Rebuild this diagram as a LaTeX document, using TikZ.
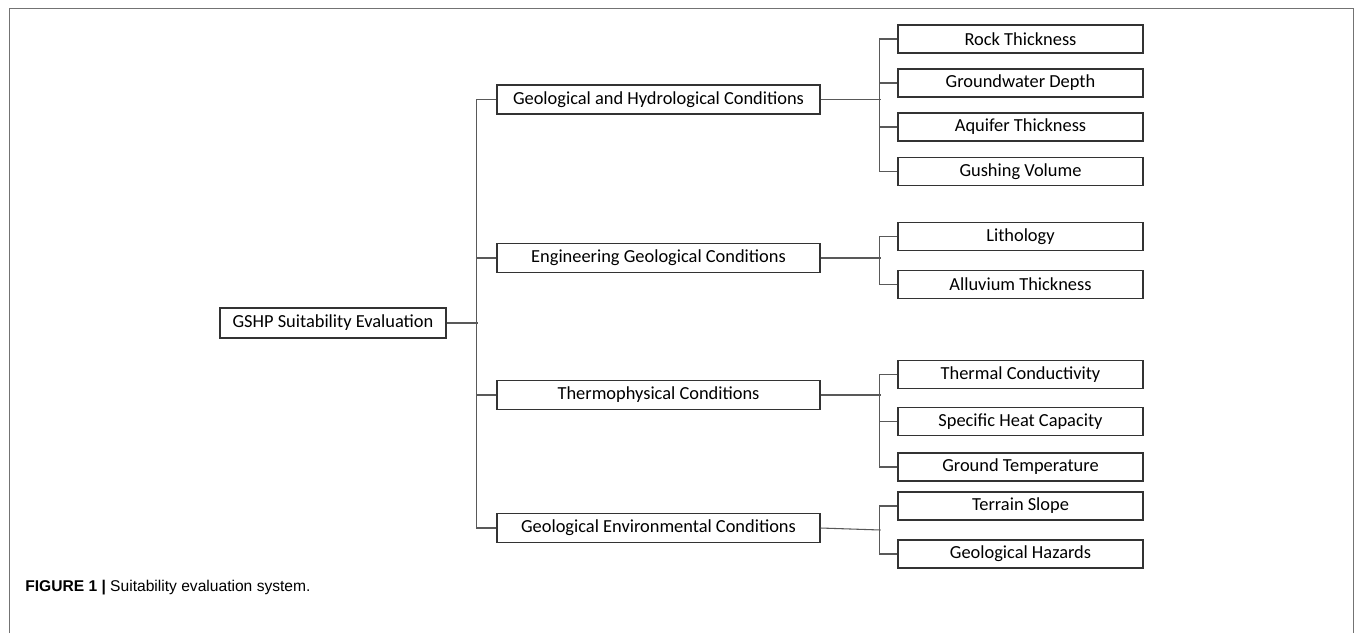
\documentclass[tikz,border=0pt]{standalone}
\usepackage{fontspec}
\setmainfont{Carlito}
\newfontfamily\capfont{Liberation Sans}
\usetikzlibrary{calc}

\tikzset{
	rootbox/.style={draw=black!80, line width=0.8pt, minimum width=169.5pt, minimum height=22.5pt, inner sep=0pt, font=\fontsize{13.8}{16}\selectfont},
	midbox/.style={draw=black!80, line width=0.8pt, minimum width=242.25pt, minimum height=21.75pt, inner sep=0pt, font=\fontsize{13.8}{16}\selectfont},
	leafbox/.style={draw=black!80, line width=0.8pt, minimum width=183.75pt, minimum height=21pt, inner sep=0pt, font=\fontsize{13.8}{16}\selectfont},
	link/.style={draw=black!65, line width=0.8pt},
}

\begin{document}
\begin{tikzpicture}[x=0.75pt, y=-0.75pt]
			%%%%% START %%%%%
			\useasboundingbox (0, 0) rectangle (1355, 633);
			
			\draw[color=black!55, line width=0.8pt] (9.5, 633) -- (9.5, 8.5) -- (1353.5, 8.5) -- (1353.5, 633);
			
			\node[rootbox] (root) at (333, 323) {GSHP Suitability Evaluation};
			
			\node[midbox] (hydro) at (658.5, 99.5) {Geological and Hydrological Conditions};
			\node[midbox] (eng) at (658.5, 258) {Engineering Geological Conditions};
			\node[midbox] (thermo) at (658.5, 395) {Thermophysical Conditions};
			\node[midbox] (envir) at (658.5, 528) {Geological Environmental Conditions};
			
			\node[leafbox] (rock) at (1020.5, 39) {Rock Thickness};
			\node[leafbox] (water) at (1020.5, 83) {Groundwater Depth};
			\node[leafbox] (aquifer) at (1020.5, 127) {Aquifer Thickness};
			\node[leafbox] (gush) at (1020.5, 171.5) {Gushing Volume};
			
			\node[leafbox] (litho) at (1020.5, 236.5) {Lithology};
			\node[leafbox] (alluv) at (1020.5, 284.5) {Alluvium Thickness};
			
			\node[leafbox] (conduct) at (1020.5, 374.5) {Thermal Conductivity};
			\node[leafbox] (heat) at (1020.5, 421.5) {Specific Heat Capacity};
			\node[leafbox] (temp) at (1020.5, 467) {Ground Temperature};
			
			\node[leafbox] (slope) at (1020.5, 506) {Terrain Slope};
			\node[leafbox] (hazard) at (1020.5, 554) {Geological Hazards};
			
			% root to second level
			\draw[link] (root.east) -- ++(31, 0);
			\draw[link] (hydro.west) -- ++(-20, 0) |- (envir.west);
			\draw[link] (eng.west) -- ++(-20, 0);
			\draw[link] (thermo.west) -- ++(-20, 0);
			
			% second level to leaves
			\draw[link] (hydro.east) -- ++(60, 0);
			\draw[link] (rock.west) -- ++(-18, 0) |- (gush.west);
			\draw[link] (water.west) -- ++(-18, 0);
			\draw[link] (aquifer.west) -- ++(-18, 0);
			
			\draw[link] (eng.east) -- ++(60, 0);
			\draw[link] (litho.west) -- ++(-18, 0) |- (alluv.west);
			
			\draw[link] (thermo.east) -- ++(60, 0);
			\draw[link] (conduct.west) -- ++(-18, 0) |- (temp.west);
			\draw[link] (heat.west) -- ++(-18, 0);
			
			\draw[link] (envir.east) -- ++(60, 2);
			\draw[link] (slope.west) -- ++(-18, 0) |- (hazard.west);
			
			\node[anchor=west, inner sep=0pt, font=\capfont\fontsize{11.7}{14}\selectfont] (caption) at (25, 588) {\textbf{FIGURE 1 |} Suitability evaluation system.};
			
			%%%%% END %%%%%
\end{tikzpicture}
\end{document}
